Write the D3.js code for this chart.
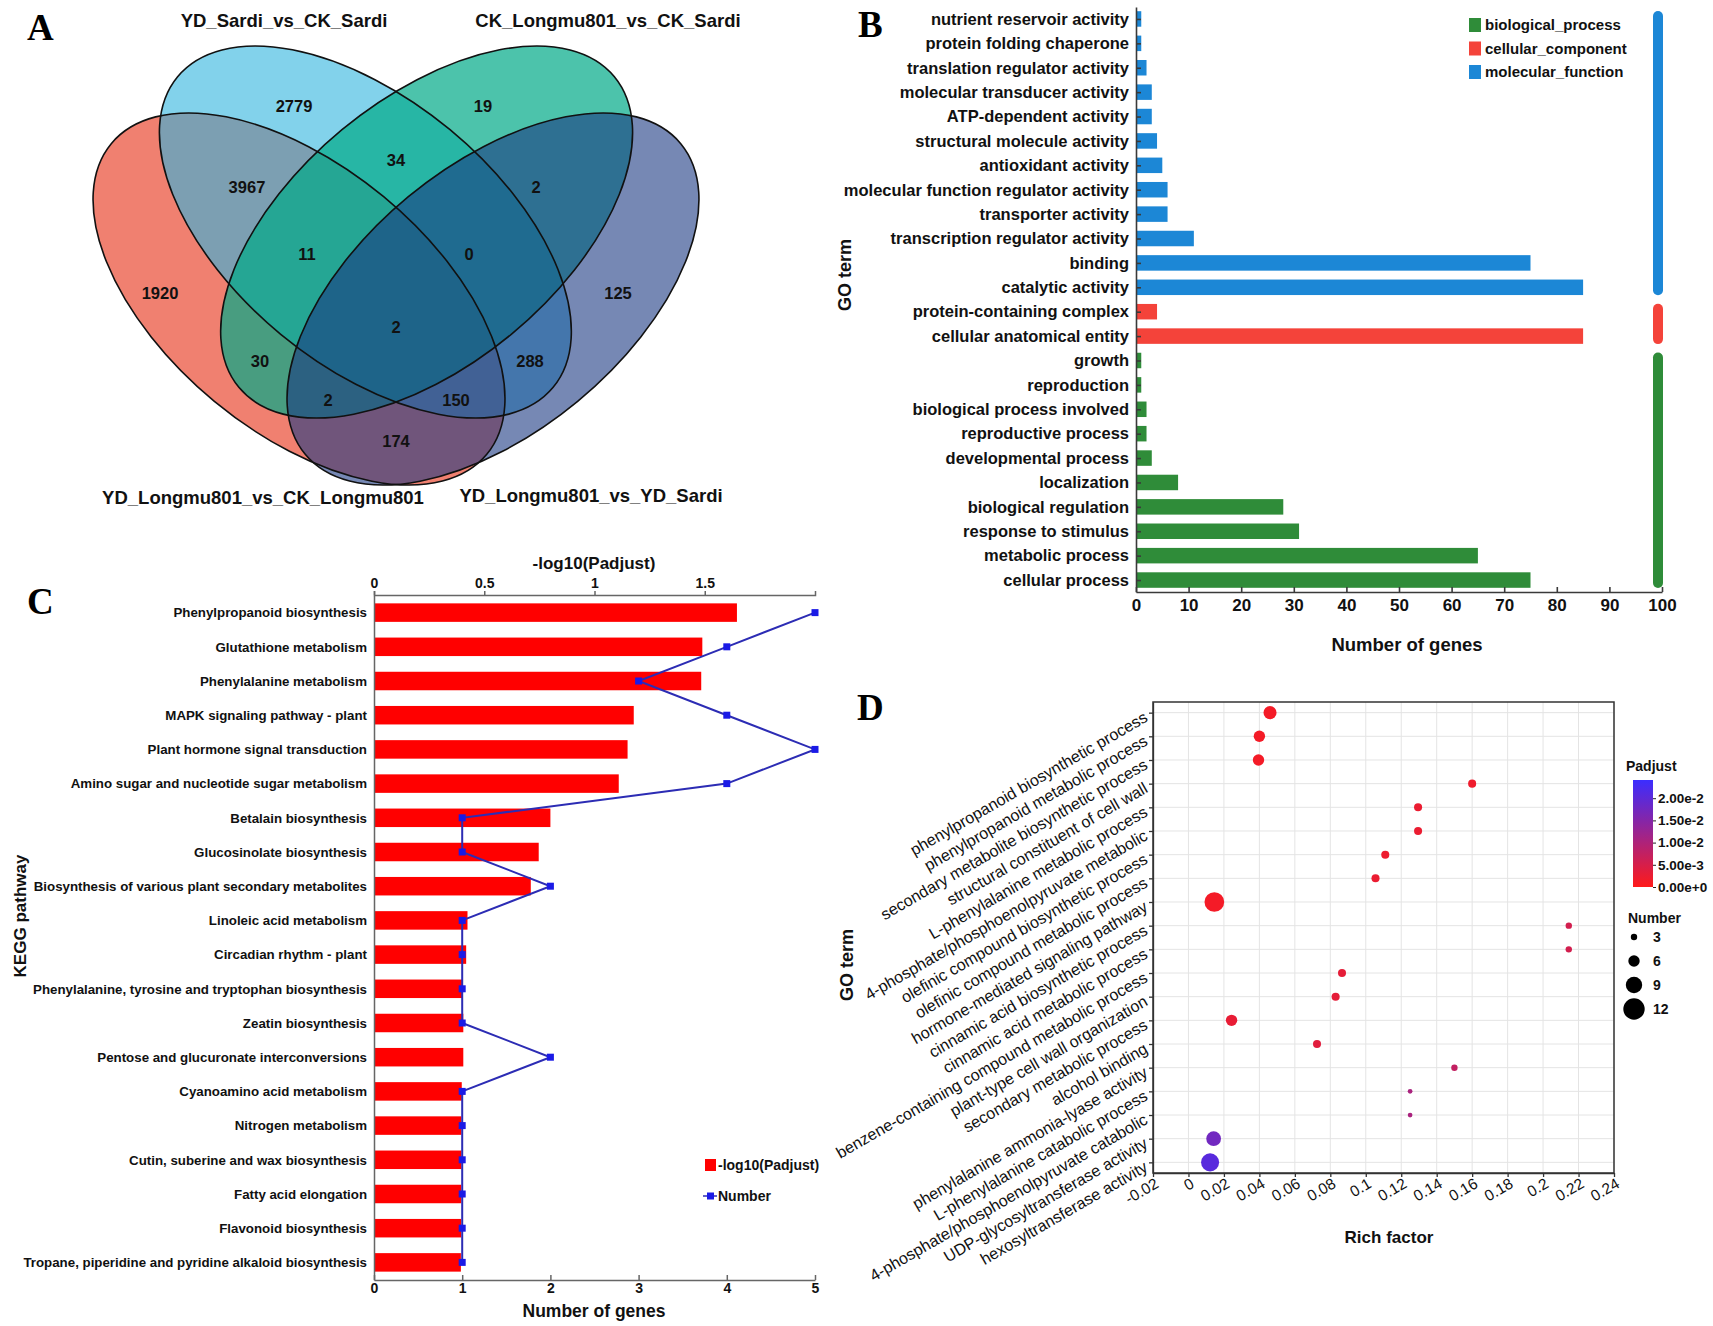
<!DOCTYPE html>
<html><head><meta charset="utf-8">
<script src="https://cdn.jsdelivr.net/npm/d3@7"></script>
<style>
body{margin:0;background:#fff}
svg{display:block}
text{font-family:"Liberation Sans",Arial,Helvetica,sans-serif}
</style>
</head><body>
<svg id="c" width="1713" height="1326"></svg>
<script>
// ================= DATA =================
// Panel A : Venn
const vennSetNames = ["YD_Longmu801_vs_CK_Longmu801","YD_Sardi_vs_CK_Sardi","CK_Longmu801_vs_CK_Sardi","YD_Longmu801_vs_YD_Sardi"];
const vennRegionKeys = ["1000","0100","0010","0001","1100","0110","0011","1001","1110","0111","1010","0101","1011","1101","1111"];
const vennCounts     = [1920, 2779, 19, 125, 3967, 34, 2, 174, 11, 0, 30, 288, 2, 150, 2];

// Panel B : GO classification
const goTerms = ["nutrient reservoir activity","protein folding chaperone","translation regulator activity","molecular transducer activity","ATP-dependent activity","structural molecule activity","antioxidant activity","molecular function regulator activity","transporter activity","transcription regulator activity","binding","catalytic activity","protein-containing complex","cellular anatomical entity","growth","reproduction","biological process involved","reproductive process","developmental process","localization","biological regulation","response to stimulus","metabolic process","cellular process"];
const goGenes = [1,1,2,3,3,4,5,6,6,11,75,85,4,85,1,1,2,2,3,8,28,31,65,75];
const goCategory = ["molecular_function","molecular_function","molecular_function","molecular_function","molecular_function","molecular_function","molecular_function","molecular_function","molecular_function","molecular_function","molecular_function","molecular_function","cellular_component","cellular_component","biological_process","biological_process","biological_process","biological_process","biological_process","biological_process","biological_process","biological_process","biological_process","biological_process"];
const goCategories = ["biological_process","cellular_component","molecular_function"];
const goXTicks = [0,10,20,30,40,50,60,70,80,90,100];

// Panel C : KEGG enrichment
const keggPathways = ["Phenylpropanoid biosynthesis","Glutathione metabolism","Phenylalanine metabolism","MAPK signaling pathway - plant","Plant hormone signal transduction","Amino sugar and nucleotide sugar metabolism","Betalain biosynthesis","Glucosinolate biosynthesis","Biosynthesis of various plant secondary metabolites","Linoleic acid metabolism","Circadian rhythm - plant","Phenylalanine, tyrosine and tryptophan biosynthesis","Zeatin biosynthesis","Pentose and glucuronate interconversions","Cyanoamino acid metabolism","Nitrogen metabolism","Cutin, suberine and wax biosynthesis","Fatty acid elongation","Flavonoid biosynthesis","Tropane, piperidine and pyridine alkaloid biosynthesis"];
const keggLogPadj = [1.646,1.489,1.484,1.178,1.150,1.110,0.800,0.747,0.711,0.424,0.418,0.400,0.405,0.405,0.398,0.396,0.396,0.395,0.395,0.394];
const keggNumber  = [5,4,3,4,5,4,1,1,2,1,1,1,1,2,1,1,1,1,1,1];
const keggTopTicks = [0,0.5,1,1.5];
const keggBottomTicks = [0,1,2,3,4,5];

// Panel D : GO enrichment bubble
const dTerms = ["phenylpropanoid biosynthetic process","phenylpropanoid metabolic process","secondary metabolite biosynthetic process","structural constituent of cell wall","L-phenylalanine metabolic process","4-phosphate/phosphoenolpyruvate metabolic","olefinic compound biosynthetic process","olefinic compound metabolic process","hormone-mediated signaling pathway","cinnamic acid biosynthetic process","cinnamic acid metabolic process","benzene-containing compound metabolic process","plant-type cell wall organization","secondary metabolic process","alcohol binding","phenylalanine ammonia-lyase activity","L-phenylalanine catabolic process","4-phosphate/phosphoenolpyruvate catabolic","UDP-glycosyltransferase activity","hexosyltransferase activity"];
const dRich   = [0.046,0.040,0.0395,0.160,0.1295,0.1295,0.111,0.1055,0.0146,0.2145,0.2145,0.0866,0.083,0.0243,0.0725,0.150,0.125,0.125,0.0142,0.0122];
const dNumber = [7,6,6,4,4,4,4,4,11,3,3,4,4,6,4,3,2,2,8,10];
const dPadj   = [0.0014,0.0014,0.0014,0.0020,0.0024,0.0024,0.0022,0.0024,0.0014,0.0055,0.0055,0.0032,0.0032,0.0028,0.0037,0.0075,0.0105,0.0105,0.0175,0.0205];
const dXTicks = [-0.02,0,0.02,0.04,0.06,0.08,0.1,0.12,0.14,0.16,0.18,0.2,0.22,0.24];
const padjTicks = [0,0.005,0.01,0.015,0.02];
const sizeLegendValues = [3,6,9,12];

// ================= STYLE / LAYOUT =================
const SANS = '"Liberation Sans",Arial,Helvetica,sans-serif';
const SERIF = '"Liberation Serif","Times New Roman",serif';
const AX = "#3a3a3a";
const fmtNum = d => String(+d.toFixed(3));

const svg = d3.select("#c");
svg.append("rect").attr("width",1713).attr("height",1326).attr("fill","#fff");

// panel letters
const panelLetters = [{t:"A",x:27,y:40},{t:"B",x:858,y:37},{t:"C",x:27,y:614},{t:"D",x:857,y:720}];
svg.selectAll("text.pl").data(panelLetters).join("text").attr("class","pl")
  .attr("x",d=>d.x).attr("y",d=>d.y).text(d=>d.t)
  .style("font-family",SERIF).style("font-weight","bold").style("font-size","37px").attr("fill","#000");

// ================= PANEL A =================
(function(){
  const g = svg.append("g");
  const vs = d3.scaleLinear().domain([0,1]).range([0,610]);
  const ox = 91, oy = 47;
  const X = v => ox + vs(v), Y = v => oy + vs(v);
  const EA = 0.3995, EB = 0.2177;
  const ellipses = [
    {cx:0.3410, cy:0.4131, rot:39.6,  fill:"#e62b11", op:0.6},
    {cx:0.4498, cy:0.3033, rot:39.6,  fill:"#2fb4de", op:0.6},
    {cx:0.5502, cy:0.3033, rot:-39.6, fill:"#00a988", op:0.7},
    {cx:0.6590, cy:0.4131, rot:-39.6, fill:"#1b3982", op:0.6}
  ];
  g.selectAll("ellipse.f").data(ellipses).join("ellipse").attr("class","f")
    .attr("cx",d=>X(d.cx)).attr("cy",d=>Y(d.cy)).attr("rx",vs(EA)).attr("ry",vs(EB))
    .attr("transform",d=>`rotate(${d.rot},${X(d.cx)},${Y(d.cy)})`)
    .attr("fill",d=>d.fill).attr("fill-opacity",d=>d.op);
  g.selectAll("ellipse.o").data(ellipses).join("ellipse").attr("class","o")
    .attr("cx",d=>X(d.cx)).attr("cy",d=>Y(d.cy)).attr("rx",vs(EA)).attr("ry",vs(EB))
    .attr("transform",d=>`rotate(${d.rot},${X(d.cx)},${Y(d.cy)})`)
    .attr("fill","none").attr("stroke","#111").attr("stroke-width",1.6);

  const regionPos = {"1000":[0.1131,0.4033],"0100":[0.3328,0.0967],"0010":[0.6426,0.0967],"0001":[0.8639,0.4033],
    "1100":[0.2557,0.2295],"0110":[0.5,0.1852],"0011":[0.7295,0.2295],"1001":[0.5,0.6459],
    "1110":[0.3541,0.3393],"0111":[0.6197,0.3393],"1010":[0.2770,0.5148],"0101":[0.7197,0.5148],
    "1011":[0.3885,0.5787],"1101":[0.5984,0.5787],"1111":[0.5,0.4590]};
  g.selectAll("text.cnt").data(vennRegionKeys.map((k,i)=>({k,v:vennCounts[i]}))).join("text").attr("class","cnt")
    .attr("x",d=>X(regionPos[d.k][0])).attr("y",d=>Y(regionPos[d.k][1])).attr("dy","0.36em")
    .attr("text-anchor","middle").style("font-size","16.5px").style("font-weight","bold").attr("fill","#111")
    .text(d=>d.v);

  const titlePos = [[0.2820,0.7377],[0.3164,-0.0443],[0.8475,-0.0443],[0.8197,0.7344]];
  g.selectAll("text.st").data(vennSetNames).join("text").attr("class","st")
    .attr("x",(d,i)=>X(titlePos[i][0])).attr("y",(d,i)=>Y(titlePos[i][1])).attr("dy","0.36em")
    .attr("text-anchor","middle").style("font-size","18.5px").style("font-weight","bold").attr("fill","#111")
    .text(d=>d);
})();

// ================= PANEL B =================
(function(){
  const g = svg.append("g");
  const colors = {"biological_process":"#2f8c39","cellular_component":"#f4433a","molecular_function":"#1c87d6"};
  const x = d3.scaleLinear().domain([0,100]).range([1136,1662]);
  const y = d3.scalePoint().domain(goTerms).range([7,592]).padding(0.49);
  const bh = 15.5;
  const rows = goTerms.map((t,i)=>({t,v:goGenes[i],c:goCategory[i]}));
  g.selectAll("rect.bar").data(rows).join("rect").attr("class","bar")
    .attr("x",x(0)).attr("y",d=>y(d.t)-bh/2).attr("width",d=>x(d.v)-x(0)).attr("height",bh)
    .attr("fill",d=>colors[d.c]);
  const ya = g.append("g").attr("transform",`translate(${x(0)},0)`)
    .call(d3.axisLeft(y).tickSize(-5).tickSizeOuter(0).tickPadding(7));
  const xa = g.append("g").attr("transform",`translate(0,592)`)
    .call(d3.axisBottom(x).tickValues(goXTicks).tickSize(-5).tickSizeOuter(0).tickPadding(7));
  [ya,xa].forEach(a=>{
    a.selectAll("path,line").attr("stroke",AX).attr("stroke-width",1.6);
    a.selectAll("text").style("font-family",SANS).style("font-weight","bold").style("font-size","16.5px").attr("fill","#111");
  });
  xa.selectAll("text").style("font-size","17px");
  g.append("text").attr("x",(x(0)+x(100))/2+8).attr("y",651).attr("text-anchor","middle")
    .style("font-size","18.5px").style("font-weight","bold").attr("fill","#111").text("Number of genes");
  g.append("text").attr("transform","translate(851,275) rotate(-90)").attr("text-anchor","middle")
    .style("font-size","18px").style("font-weight","bold").attr("fill","#111").text("GO term");
  // legend
  const lg = g.append("g");
  goCategories.forEach((c,i)=>{
    lg.append("rect").attr("x",1469).attr("y",18+i*23.5).attr("width",12).attr("height",14).attr("fill",colors[c]);
    lg.append("text").attr("x",1485).attr("y",25+i*23.5).attr("dy","0.36em")
      .style("font-size","15px").style("font-weight","bold").attr("fill","#111").text(c);
  });
  // category side bars
  goCategories.forEach(c=>{
    const ys = rows.filter(r=>r.c===c).map(r=>y(r.t));
    const y0 = d3.min(ys)-8, y1 = d3.max(ys)+8;
    g.append("rect").attr("x",1653).attr("y",y0).attr("width",10).attr("height",y1-y0)
      .attr("rx",5).attr("fill",colors[c]);
  });
})();

// ================= PANEL C =================
(function(){
  const g = svg.append("g");
  const y = d3.scalePoint().domain(keggPathways).range([595,1280]).padding(0.515);
  const xt = d3.scaleLinear().domain([0,2]).range([374,815]);
  const xb = d3.scaleLinear().domain([0,5]).range([374,815]);
  const bh = 18.5;
  const rows = keggPathways.map((p,i)=>({p,v:keggLogPadj[i],n:keggNumber[i]}));
  g.selectAll("rect.bar").data(rows).join("rect").attr("class","bar")
    .attr("x",xt(0)).attr("y",d=>y(d.p)-bh/2).attr("width",d=>xt(d.v)-xt(0)).attr("height",bh)
    .attr("fill","#ff0000");
  const ya = g.append("g").attr("transform",`translate(${xt(0)},0)`).call(d3.axisLeft(y).tickSize(0).tickPadding(7));
  const ta = g.append("g").attr("transform",`translate(0,595)`)
    .call(d3.axisTop(xt).tickValues(keggTopTicks).tickFormat(fmtNum).tickSize(4).tickSizeOuter(4).tickPadding(3));
  const ba = g.append("g").attr("transform",`translate(0,1280)`)
    .call(d3.axisBottom(xb).tickValues(keggBottomTicks).tickFormat(fmtNum).tickSize(-5).tickSizeOuter(0).tickPadding(3));
  [ya,ta,ba].forEach(a=>{
    a.selectAll("path,line").attr("stroke","#666").attr("stroke-width",1.5);
    a.selectAll("text").style("font-family",SANS).style("font-weight","bold").style("font-size","14px").attr("fill","#111");
  });
  ya.selectAll("text").style("font-size","13.3px");
  // number line
  const line = d3.line().x(d=>xb(d.n)).y(d=>y(d.p));
  g.append("path").datum(rows).attr("d",line).attr("fill","none").attr("stroke","#2c2cb4").attr("stroke-width",2);
  g.selectAll("rect.mk").data(rows).join("rect").attr("class","mk")
    .attr("x",d=>xb(d.n)-3.5).attr("y",d=>y(d.p)-3.5).attr("width",7).attr("height",7).attr("fill","#1a1ae6");
  g.append("text").attr("x",594).attr("y",563).attr("dy","0.36em").attr("text-anchor","middle")
    .style("font-size","17px").style("font-weight","bold").attr("fill","#111").text("-log10(Padjust)");
  g.append("text").attr("x",594).attr("y",1311).attr("dy","0.36em").attr("text-anchor","middle")
    .style("font-size","17.5px").style("font-weight","bold").attr("fill","#111").text("Number of genes");
  g.append("text").attr("transform","translate(26,916) rotate(-90)").attr("text-anchor","middle")
    .style("font-size","17px").style("font-weight","bold").attr("fill","#111").text("KEGG pathway");
  // legend
  g.append("rect").attr("x",705).attr("y",1159).attr("width",11).attr("height",12).attr("fill","#ff0000");
  g.append("text").attr("x",718).attr("y",1165).attr("dy","0.36em").style("font-size","14px").style("font-weight","bold").attr("fill","#111").text("-log10(Padjust)");
  g.append("line").attr("x1",703).attr("x2",717).attr("y1",1196).attr("y2",1196).attr("stroke","#2c2cb4").attr("stroke-width",1.5);
  g.append("rect").attr("x",707).attr("y",1192.5).attr("width",7).attr("height",7).attr("fill","#1a1ae6");
  g.append("text").attr("x",718).attr("y",1196).attr("dy","0.36em").style("font-size","14px").style("font-weight","bold").attr("fill","#111").text("Number");
})();

// ================= PANEL D =================
(function(){
  const g = svg.append("g");
  const x = d3.scaleLinear().domain([-0.02,0.24]).range([1153,1614]);
  const y = d3.scalePoint().domain(dTerms).range([702,1173]).padding(0.45);
  const r = d3.scaleLinear().domain([3,12]).range([3.2,10.7]);
  const padjMax = 0.0241;
  const col = d3.scaleLinear().domain([0,padjMax]).range(["#ff1a1a","#3b2dff"]).interpolate(d3.interpolateRgb);
  // grid
  g.selectAll("line.gx").data(dXTicks).join("line").attr("class","gx")
    .attr("x1",d=>x(d)).attr("x2",d=>x(d)).attr("y1",702).attr("y2",1173).attr("stroke","#e4e4e4").attr("stroke-width",1);
  g.selectAll("line.gy").data(dTerms).join("line").attr("class","gy")
    .attr("x1",1153).attr("x2",1614).attr("y1",d=>y(d)).attr("y2",d=>y(d)).attr("stroke","#e4e4e4").attr("stroke-width",1);
  // axes
  const ya = g.append("g").attr("transform","translate(1153,0)").call(d3.axisLeft(y).tickSize(4).tickSizeOuter(0).tickFormat(""));
  const xa = g.append("g").attr("transform","translate(0,1173)").call(d3.axisBottom(x).tickValues(dXTicks).tickSize(4).tickSizeOuter(0).tickFormat(""));
  [ya,xa].forEach(a=>a.selectAll("path,line").attr("stroke","#333").attr("stroke-width",1.3));
  g.append("rect").attr("x",1153).attr("y",702).attr("width",1614-1153).attr("height",1173-702)
    .attr("fill","none").attr("stroke","#333").attr("stroke-width",1.5);
  // y labels rotated
  g.selectAll("text.yl").data(dTerms).join("text").attr("class","yl")
    .attr("transform",d=>`translate(1146,${y(d)+3}) rotate(-30)`).attr("text-anchor","end")
    .attr("dy","0.35em").style("font-size","16.2px").attr("fill","#111").text(d=>d);
  // x labels rotated
  g.selectAll("text.xl").data(dXTicks).join("text").attr("class","xl")
    .attr("transform",d=>`translate(${x(d)+4},${1182}) rotate(-30)`).attr("text-anchor","end")
    .attr("dy","0.35em").style("font-size","15.5px").attr("fill","#111").text(fmtNum);
  // bubbles
  const pts = dTerms.map((t,i)=>({t,rf:dRich[i],n:dNumber[i],p:dPadj[i]}));
  g.selectAll("circle.b").data(pts).join("circle").attr("class","b")
    .attr("cx",d=>x(d.rf)).attr("cy",d=>y(d.t)).attr("r",d=>r(d.n)).attr("fill",d=>col(d.p));
  g.append("text").attr("x",1389).attr("y",1237).attr("dy","0.36em").attr("text-anchor","middle")
    .style("font-size","17px").style("font-weight","bold").attr("fill","#111").text("Rich factor");
  g.append("text").attr("transform","translate(853,965) rotate(-90)").attr("text-anchor","middle")
    .style("font-size","18px").style("font-weight","bold").attr("fill","#111").text("GO term");
  // colour bar
  const defs = svg.append("defs");
  const grad = defs.append("linearGradient").attr("id","padjGrad").attr("x1",0).attr("y1",1).attr("x2",0).attr("y2",0);
  d3.range(0,1.0001,0.1).forEach(t=>grad.append("stop").attr("offset",t).attr("stop-color",col(t*padjMax)));
  const cy = d3.scaleLinear().domain([0,padjMax]).range([887,780]);
  g.append("rect").attr("x",1633).attr("y",cy(padjMax)).attr("width",20).attr("height",cy(0)-cy(padjMax)).attr("fill","url(#padjGrad)");
  const ca = g.append("g").attr("transform","translate(1653,0)")
    .call(d3.axisRight(cy).tickValues(padjTicks).tickFormat(d3.format(".2e")).tickSize(3).tickSizeOuter(0).tickPadding(2));
  ca.select("path").remove();
  ca.selectAll("line").attr("stroke","#222");
  ca.selectAll("text").style("font-family",SANS).style("font-weight","bold").style("font-size","13.5px").attr("fill","#111");
  g.append("text").attr("x",1626).attr("y",766).attr("dy","0.36em").style("font-size","14px").style("font-weight","bold").attr("fill","#111").text("Padjust");
  g.append("text").attr("x",1628).attr("y",918).attr("dy","0.36em").style("font-size","14px").style("font-weight","bold").attr("fill","#111").text("Number");
  const ly = d3.scalePoint().domain(sizeLegendValues).range([937,1009]);
  g.selectAll("circle.lg").data(sizeLegendValues).join("circle").attr("class","lg")
    .attr("cx",1634).attr("cy",d=>ly(d)).attr("r",d=>r(d)).attr("fill","#000");
  g.selectAll("text.lg").data(sizeLegendValues).join("text").attr("class","lg")
    .attr("x",1653).attr("y",d=>ly(d)).attr("dy","0.36em").style("font-size","14px").style("font-weight","bold").attr("fill","#111").text(d=>d);
})();
</script>
</body></html>
